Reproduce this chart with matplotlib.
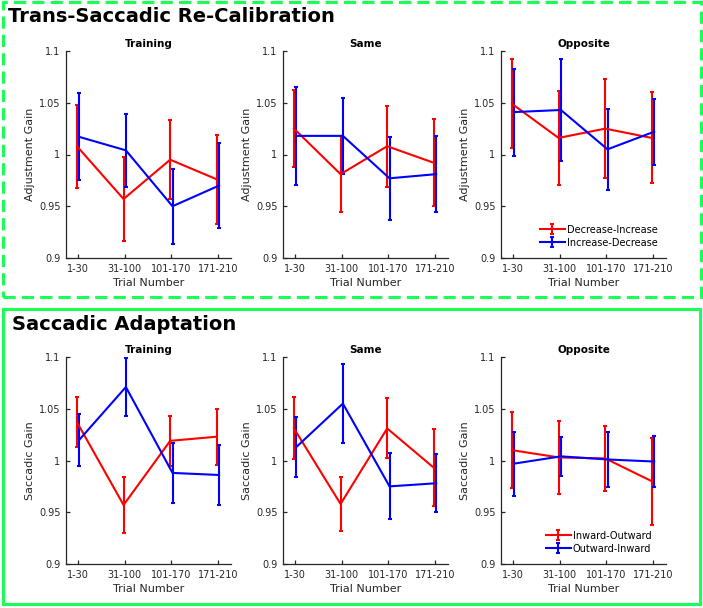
import numpy as np
import matplotlib
matplotlib.use("Agg")
import matplotlib.pyplot as plt
from matplotlib.patches import Rectangle

# trial bins on the x axis
bins = ['1-30', '31-100', '101-170', '171-210']
panel_titles = ['Training', 'Same', 'Opposite']

# Trans-saccadic re-calibration (adjustment gain), mean and error bar half-length
recal_red_mean = [[1.008, 0.957, 0.995, 0.976],
                  [1.025, 0.981, 1.008, 0.992],
                  [1.049, 1.016, 1.025, 1.016]]
recal_red_err = [[0.040, 0.041, 0.038, 0.043],
                 [0.037, 0.037, 0.039, 0.042],
                 [0.043, 0.045, 0.048, 0.044]]
recal_blue_mean = [[1.017, 1.004, 0.950, 0.970],
                   [1.018, 1.018, 0.977, 0.981],
                   [1.041, 1.043, 1.005, 1.022]]
recal_blue_err = [[0.042, 0.035, 0.036, 0.041],
                  [0.047, 0.037, 0.040, 0.037],
                  [0.042, 0.049, 0.039, 0.032]]
recal_labels = ['Decrease-Increase', 'Increase-Decrease']

# Saccadic adaptation (saccadic gain)
adapt_red_mean = [[1.037, 0.957, 1.019, 1.023],
                  [1.031, 0.958, 1.031, 0.993],
                  [1.010, 1.003, 1.002, 0.980]]
adapt_red_err = [[0.024, 0.027, 0.024, 0.027],
                 [0.030, 0.026, 0.029, 0.037],
                 [0.037, 0.035, 0.031, 0.042]]
adapt_blue_mean = [[1.020, 1.071, 0.988, 0.986],
                   [1.013, 1.055, 0.975, 0.978],
                   [0.997, 1.004, 1.001, 0.999]]
adapt_blue_err = [[0.025, 0.028, 0.029, 0.029],
                  [0.029, 0.038, 0.032, 0.028],
                  [0.031, 0.019, 0.027, 0.025]]
adapt_labels = ['Inward-Outward', 'Outward-Inward']

W, H = 703, 608
grey = '#262626'
green = '#1aff55'

fig = plt.figure(figsize=(W / 100, H / 100), dpi=100)


def px_axes(left, top, width, height):
    return fig.add_axes([left / W, 1 - (top + height) / H, width / W, height / H])


def draw_panel(ax, title, ylabel, red_m, red_e, blue_m, blue_e, labels, legend_pos=None):
    x = np.arange(1, len(bins) + 1)
    dx = 0.025
    ax.errorbar(x - dx, red_m, yerr=red_e, color='red', lw=1.5, elinewidth=1.5,
                capsize=1.7, capthick=1.5, label=labels[0])
    ax.errorbar(x + dx, blue_m, yerr=blue_e, color='blue', lw=1.5, elinewidth=1.5,
                capsize=1.7, capthick=1.5, label=labels[1])
    ax.set_xlim(0.74, 4.28)
    ax.set_ylim(0.9, 1.1)
    ax.set_xticks(x)
    ax.set_xticklabels(bins)
    ax.set_yticks([0.9, 0.95, 1.0, 1.05, 1.1])
    ax.set_yticklabels(['0.9', '0.95', '1', '1.05', '1.1'])
    for s in ['top', 'right']:
        ax.spines[s].set_visible(False)
    for s in ['left', 'bottom']:
        ax.spines[s].set_color(grey)
        ax.spines[s].set_linewidth(0.9)
    ax.tick_params(direction='in', length=3, width=0.9, colors=grey, labelsize=7, pad=4)
    ax.set_xlabel('Trial Number', fontsize=8, color=grey, labelpad=3)
    ax.set_ylabel(ylabel, fontsize=8, color=grey, labelpad=3)
    ax.set_title(title, fontsize=7.5, fontweight='bold', pad=3)
    if legend_pos is not None:
        ax.legend(loc='lower left', bbox_to_anchor=legend_pos, frameon=False,
                  fontsize=7, handlelength=2.6, handletextpad=0.2, labelspacing=0.3,
                  borderpad=0, borderaxespad=0)


lefts = [66, 283, 501]
for i in range(3):
    ax = px_axes(lefts[i], 51, 165, 207)
    draw_panel(ax, panel_titles[i], 'Adjustment Gain',
               recal_red_mean[i], recal_red_err[i], recal_blue_mean[i], recal_blue_err[i],
               recal_labels, legend_pos=(0.235, 0.05) if i == 2 else None)
    ax = px_axes(lefts[i], 357, 165, 207)
    draw_panel(ax, panel_titles[i], 'Saccadic Gain',
               adapt_red_mean[i], adapt_red_err[i], adapt_blue_mean[i], adapt_blue_err[i],
               adapt_labels, legend_pos=(0.27, 0.05) if i == 2 else None)

# section headings
fig.text(8 / W, 1 - 17 / H, 'Trans-Saccadic Re-Calibration', fontsize=14,
         fontweight='bold', va='center', ha='left')
fig.text(12 / W, 1 - 325 / H, 'Saccadic Adaptation', fontsize=14,
         fontweight='bold', va='center', ha='left')

# green frames round the two sections
fig.patches.append(Rectangle((2.5 / W, 1 - 297.5 / H), 698 / W, 295 / H,
                             transform=fig.transFigure, fill=False, ec=green, lw=2.2,
                             ls=(0, (4, 2))))
fig.patches.append(Rectangle((3 / W, 1 - 604 / H), 697 / W, 295 / H,
                             transform=fig.transFigure, fill=False, ec=green, lw=2.2))

fig.savefig('out.png', dpi=100)
